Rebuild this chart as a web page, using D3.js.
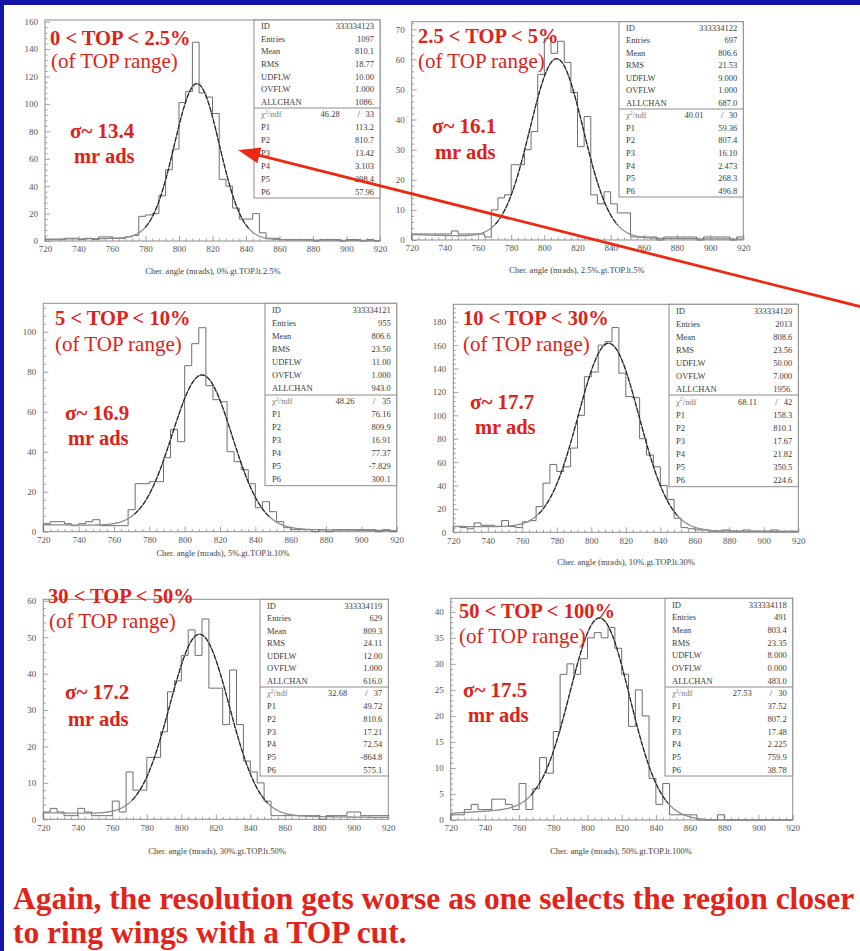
<!DOCTYPE html>
<html>
<head>
<meta charset="utf-8">
<script src="https://cdn.jsdelivr.net/npm/d3@7"></script>
<style>
  html, body { margin: 0; padding: 0; background: #1414a8; }
  svg { display: block; }
</style>
</head>
<body>
<svg id="slide" width="860" height="951"></svg>
<script>
// ---- binning shared by all six histograms (Cherenkov angle, mrad) ----
const binLow = 720, binHigh = 920, binWidth = 4;
const xTickValues = [720, 740, 760, 780, 800, 820, 840, 860, 880, 900, 920];

// ---- bin contents, one array per TOP slice (50 bins of 4 mrad) ----
const countsTop0to2p5 = [1,1,1,2,2,1,2,1,3,3,2,2,3,4, 18,19,20,33,52,67,101,109,145,108,105,93,45,40,24,16,16,20,6,2, 2,1,1,1,1,1,0,1,1,1,0,1,1,0,1,0];
const countsTop2p5to5 = [2,2,2,2,2,2,3,2,2,2,2,1, 10,14,15,25,25,30,36,55,67,62,66,59,49,31,41,15,12,16,12,9,9, 1,1,1,1,0,1,1,1,1,1,0,1,1,1,1,0,1];
const countsTop5to10 = [4,5,5,4,3,4,5,6,3,3,3,3, 11,24,24,25,25,37,51,45,83,94,102,73,66,65,40,35,31,24,12,15,10,5, 2,1,1,1,0,1,0,1,1,1,1,1,1,0,1,0];
const countsTop10to30 = [5,4,3,8,6,6,5,10,5,4,9,10, 22,42,58,52,56,72,100,133,137,160,163,175,136,116,115,80,66,56,40,28,12,4, 3,2,2,1,1,2,1,1,2,1,1,1,2,1,1,1];
const countsTop30to50 = [2,3,2,1,1,3,2,1,1,1,5,2, 13,8,8,17,17,24,35,38,45,52,45,55,36,36,26,41,26,16,13,10,5,1, 1,1,1,1,1,1,0,1,1,1,2,2,1,1,1,1];
const countsTop50to100 = [1,1,2,3,2,2,4,4,3,2,7,2,6,12,9,17,28,30,28,31,35,36,35,37,33,28,18,25,20,8,3,7,1,1,1,1,0,0,0,1, 0,0,0,0,0,0,0,0,0,0];

// ---- y tick labels per histogram ----
const yTicksTop0to2p5 = [0,20,40,60,80,100,120,140,160];
const yTicksTop2p5to5 = [0,10,20,30,40,50,60,70];
const yTicksTop5to10 = [0,20,40,60,80,100];
const yTicksTop10to30 = [0,20,40,60,80,100,120,140,160,180];
const yTicksTop30to50 = [0,10,20,30,40,50,60];
const yTicksTop50to100 = [0,5,10,15,20,25,30,35,40];

// ---- slice captions ----
const sliceTitles = ["0 < TOP < 2.5%", "2.5 < TOP < 5%", "5 < TOP < 10%", "10 < TOP < 30%", "30 < TOP < 50%", "50 < TOP < 100%"];
const sigmaLabels = ["σ~ 13.4", "σ~ 16.1", "σ~ 16.9", "σ~ 17.7", "σ~ 17.2", "σ~ 17.5"];
const cutNames = ["0%.gt.TOP.lt.2.5%", "2.5%.gt.TOP.lt.5%", "5%.gt.TOP.lt.10%", "10%.gt.TOP.lt.30%", "30%.gt.TOP.lt.50%", "50%.gt.TOP.lt.100%"];

// ---- statistics boxes ----
const statId = ["333334123", "333334122", "333334121", "333334120", "333334119", "333334118"];
const statEntries = ["1097", "697", "955", "2013", "629", "491"];
const statMean = ["810.1", "806.6", "806.6", "808.6", "809.3", "803.4"];
const statRms = ["18.77", "21.53", "23.50", "23.56", "24.11", "23.35"];
const statUdflw = ["10.00", "9.000", "11.00", "50.00", "12.00", "8.000"];
const statOvflw = ["1.000", "1.000", "1.000", "7.000", "1.000", "0.000"];
const statAllchan = ["1086.", "687.0", "943.0", "1956.", "616.0", "483.0"];
const fitChi2 = ["46.28", "40.01", "48.26", "68.11", "32.68", "27.53"];
const fitNdf = ["33", "30", "35", "42", "37", "30"];
const fitP1 = ["113.2", "59.36", "76.16", "158.3", "49.72", "37.52"];
const fitP2 = ["810.7", "807.4", "809.9", "810.1", "810.6", "807.2"];
const fitP3 = ["13.42", "16.10", "16.91", "17.67", "17.21", "17.48"];
const fitP4 = ["3.103", "2.473", "77.37", "21.82", "72.54", "2.225"];
const fitP5 = ["298.4", "268.3", "-7.829", "350.5", "-864.8", "759.9"];
const fitP6 = ["57.96", "496.8", "300.1", "224.6", "575.1", "38.78"];

// background level under each fitted peak at 720, 770, 820, 870, 920 mrad
const bgAnchors = [720, 770, 820, 870, 920];
const bgTop0to2p5 = [1.3, 2.0, 1.5, 0.8, 0.3];
const bgTop2p5to5 = [1.8, 1.0, 0.8, 0.5, 0.3];
const bgTop5to10 = [3.5, 3.0, 2.0, 1.0, 0.5];
const bgTop10to30 = [5.0, 4.5, 3.0, 1.0, 0.5];
const bgTop30to50 = [1.8, 1.5, 1.0, 0.8, 0.5];
const bgTop50to100 = [1.3, 2.2, 1.0, 0.0, 0.0];

const histCounts = [countsTop0to2p5, countsTop2p5to5, countsTop5to10, countsTop10to30, countsTop30to50, countsTop50to100];
const histYTicks = [yTicksTop0to2p5, yTicksTop2p5to5, yTicksTop5to10, yTicksTop10to30, yTicksTop30to50, yTicksTop50to100];
const histBg = [bgTop0to2p5, bgTop2p5to5, bgTop5to10, bgTop10to30, bgTop30to50, bgTop50to100];

// ---- page geometry of each histogram pad ----
const pads = [
  {x0: 45,    x1: 380,   y0: 20,    y1: 241,   yTop: 161.2, box: {x0: 254, x1: 380,   y0: 20,    y1: 198,   div: 108},
   title: [50, 45],  sub: [51, 68],  sig: [70, 138], mr: [74, 163], xt: [213, 274]},
  {x0: 411.7, x1: 743.3, y0: 21.7,  y1: 240,   yTop: 72.5,  box: {x0: 619, x1: 743.3, y0: 21.7,  y1: 197,   div: 109},
   title: [418, 43], sub: [418, 68], sig: [432, 133], mr: [435, 159], xt: [577, 273]},
  {x0: 43.3,  x1: 396.7, y0: 303.3, y1: 531.7, yTop: 114.2, box: {x0: 265, x1: 396.7, y0: 303.3, y1: 485.7, div: 395},
   title: [55, 325], sub: [55, 351], sig: [65, 420], mr: [68, 445], xt: [223, 556]},
  {x0: 453.3, x1: 798.3, y0: 304.3, y1: 532.3, yTop: 194.9, box: {x0: 669, x1: 798.3, y0: 304.3, y1: 486.7, div: 395},
   title: [463, 325], sub: [463, 351], sig: [470, 409], mr: [475, 434], xt: [626, 565]},
  {x0: 43.3,  x1: 388.3, y0: 599.3, y1: 819.3, yTop: 60.4,  box: {x0: 260, x1: 388.3, y0: 599.3, y1: 776,   div: 687},
   title: [48, 603], sub: [49, 628], sig: [65, 699], mr: [68, 726], xt: [217, 854]},
  {x0: 450.7, x1: 792.7, y0: 598.3, y1: 820,   yTop: 42.6,  box: {x0: 665, x1: 792.7, y0: 598.3, y1: 776,   div: 687},
   title: [459, 618], sub: [459, 643], sig: [463, 697], mr: [468, 722], xt: [621, 854]}
];

const SERIF = "'Liberation Serif', 'Times New Roman', serif";
const RED = "#df2119";
const FRAME = "#8c8c8c";

const svg = d3.select("#slide");
svg.append("rect").attr("width", 860).attr("height", 951).attr("fill", "#1414a8");
svg.append("rect").attr("x", 4).attr("y", 5).attr("width", 856).attr("height", 946).attr("fill", "#ffffff");

const binEdges = d3.range(binLow, binHigh, binWidth);

pads.forEach((L, i) => {
  const counts = histCounts[i];
  const yTicks = histYTicks[i];
  const x = d3.scaleLinear().domain([binLow, binHigh]).range([L.x0, L.x1]);
  const y = d3.scaleLinear().domain([0, L.yTop]).range([L.y1, L.y0]);
  const g = svg.append("g");

  // axes with ticks pointing into the pad
  const yStep = yTicks[1] - yTicks[0];
  const yMinor = d3.range(0, L.yTop, yStep / 5).filter(v => Math.abs(v / yStep - Math.round(v / yStep)) > 1e-6);
  const xMinor = d3.range(binLow, binHigh, 4).filter(v => (v - binLow) % 20 !== 0);

  const styleAxis = sel => {
    sel.select(".domain").remove();
    sel.selectAll(".tick line").attr("stroke", FRAME).attr("stroke-width", 0.8);
    sel.selectAll("text").attr("font-family", SERIF).attr("font-size", 9).attr("fill", "#555");
  };

  g.append("g").attr("transform", `translate(${L.x0},0)`)
    .call(d3.axisLeft(y).tickValues(yTicks).tickSize(-5).tickPadding(7).tickFormat(d3.format("d")))
    .call(styleAxis);
  g.append("g").attr("transform", `translate(${L.x0},0)`)
    .call(d3.axisLeft(y).tickValues(yMinor).tickSize(-2.5).tickFormat(""))
    .call(styleAxis);
  g.append("g").attr("transform", `translate(0,${L.y1})`)
    .call(d3.axisBottom(x).tickValues(xTickValues).tickSize(-5).tickPadding(5).tickFormat(d3.format("d")))
    .call(styleAxis);
  g.append("g").attr("transform", `translate(0,${L.y1})`)
    .call(d3.axisBottom(x).tickValues(xMinor).tickSize(-2.5).tickFormat(""))
    .call(styleAxis);

  // pad frame
  g.append("rect").attr("x", L.x0).attr("y", L.y0)
    .attr("width", L.x1 - L.x0).attr("height", L.y1 - L.y0)
    .attr("fill", "none").attr("stroke", FRAME).attr("stroke-width", 1);

  // histogram outline
  const pts = binEdges.map((e, k) => [e, counts[k]]);
  pts.push([binHigh, counts[counts.length - 1]]);
  pts.unshift([binLow, 0]);
  const step = d3.line().x(d => x(d[0])).y(d => y(d[1])).curve(d3.curveStepAfter);
  g.append("path").attr("d", step(pts)).attr("fill", "none")
    .attr("stroke", "#6e6e6e").attr("stroke-width", 1);

  // fitted gaussian on top of the background level
  const amp = +fitP1[i], mu = +fitP2[i], sig = +fitP3[i];
  const bg = d3.scaleLinear().domain(bgAnchors).range(histBg[i]);
  const fitAt = v => Math.max(0, amp * Math.exp(-((v - mu) ** 2) / (2 * sig * sig)) + bg(v));
  const samples = d3.range(binLow, binHigh + 0.01, 0.5).map(v => [v, fitAt(v)]);
  const fitLine = d3.line().x(d => x(d[0])).y(d => y(d[1])).curve(d3.curveLinear);
  g.append("path").attr("d", fitLine(samples)).attr("fill", "none")
    .attr("stroke", "#8a8a8a").attr("stroke-width", 1.3);
  const core = samples.filter(d => Math.abs(d[0] - mu) < 2.3 * sig);
  g.append("path").attr("d", fitLine(core)).attr("fill", "none")
    .attr("stroke", "#1e1e1e").attr("stroke-width", 1.1).attr("stroke-dasharray", "5,1.5");

  // statistics box
  const B = L.box;
  g.append("rect").attr("x", B.x0).attr("y", B.y0).attr("width", B.x1 - B.x0).attr("height", B.y1 - B.y0)
    .attr("fill", "#fff").attr("stroke", FRAME).attr("stroke-width", 1);
  g.append("line").attr("x1", B.x0).attr("x2", B.x1).attr("y1", B.div).attr("y2", B.div)
    .attr("stroke", FRAME).attr("stroke-width", 1);
  const upper = [["ID", statId[i]], ["Entries", statEntries[i]], ["Mean", statMean[i]], ["RMS", statRms[i]],
                 ["UDFLW", statUdflw[i]], ["OVFLW", statOvflw[i]], ["ALLCHAN", statAllchan[i]]];
  const lower = [["P1", fitP1[i]], ["P2", fitP2[i]], ["P3", fitP3[i]], ["P4", fitP4[i]], ["P5", fitP5[i]], ["P6", fitP6[i]]];
  const rowU = (B.div - B.y0) / 7, rowL = (B.y1 - B.div) / 7;
  const txt = (xx, yy, s, anchor, fill) => g.append("text").attr("x", xx).attr("y", yy)
    .attr("font-family", SERIF).attr("font-size", 8.5).attr("fill", fill || "#3c3c3c")
    .attr("text-anchor", anchor || "start").text(s);
  upper.forEach((r, k) => {
    const yy = B.y0 + rowU * (k + 0.5) + 3;
    txt(B.x0 + 7, yy, r[0]);
    txt(B.x1 - 6, yy, r[1], "end");
  });
  const chiY = B.div + rowL * 0.5 + 3;
  const chi = g.append("text").attr("x", B.x0 + 7).attr("y", chiY)
    .attr("font-family", SERIF).attr("font-size", 8.5).attr("fill", "#7a7a7a");
  chi.append("tspan").text("χ");
  chi.append("tspan").attr("dy", -3.5).attr("font-size", 6).text("2");
  chi.append("tspan").attr("dy", 3.5).text("/ndf");
  const bw = B.x1 - B.x0;
  txt(B.x0 + 0.68 * bw, chiY, fitChi2[i], "end");
  txt(B.x0 + 0.83 * bw, chiY, "/", "middle");
  txt(B.x1 - 6, chiY, fitNdf[i], "end");
  lower.forEach((r, k) => {
    const yy = B.div + rowL * (k + 1.5) + 3;
    txt(B.x0 + 7, yy, r[0]);
    txt(B.x1 - 6, yy, r[1], "end");
  });

  // x-axis title
  g.append("text").attr("x", L.xt[0]).attr("y", L.xt[1]).attr("text-anchor", "middle")
    .attr("font-family", SERIF).attr("font-size", 8.5).attr("fill", "#444")
    .text("Cher. angle (mrads), " + cutNames[i]);

  // slice annotations
  g.append("text").attr("x", L.title[0]).attr("y", L.title[1])
    .attr("font-family", SERIF).attr("font-weight", "bold").attr("font-size", 20.5).attr("fill", RED)
    .text(sliceTitles[i]);
  g.append("text").attr("x", L.sub[0]).attr("y", L.sub[1])
    .attr("font-family", SERIF).attr("font-size", 21).attr("fill", RED)
    .text("(of TOP range)");
  g.append("text").attr("x", L.sig[0]).attr("y", L.sig[1])
    .attr("font-family", SERIF).attr("font-weight", "bold").attr("font-size", 21).attr("fill", RED)
    .text(sigmaLabels[i]);
  g.append("text").attr("x", L.mr[0]).attr("y", L.mr[1])
    .attr("font-family", SERIF).attr("font-weight", "bold").attr("font-size", 20.5).attr("fill", RED)
    .text("mr ads");
});

// arrow pointing at the narrowest peak
(function drawArrow() {
  const tail = [864, 307.5], tip = [238, 150];
  const dx = tip[0] - tail[0], dy = tip[1] - tail[1];
  const len = Math.hypot(dx, dy), ux = dx / len, uy = dy / len;
  const headLen = 22, headHalf = 8;
  const base = [tip[0] - ux * headLen, tip[1] - uy * headLen];
  svg.append("line").attr("x1", tail[0]).attr("y1", tail[1]).attr("x2", base[0] + ux * 2).attr("y2", base[1] + uy * 2)
    .attr("stroke", "#ec2a12").attr("stroke-width", 2.8);
  svg.append("path")
    .attr("d", `M${tip[0]},${tip[1]} L${base[0] - uy * headHalf},${base[1] + ux * headHalf} L${base[0] + uy * headHalf},${base[1] - ux * headHalf} Z`)
    .attr("fill", "#ec2a12");
})();

// conclusion text
const conclusionLines = ["Again, the resolution gets worse as one selects the region closer", "to ring wings with a TOP cut."];
svg.selectAll("text.concl").data(conclusionLines).enter().append("text")
  .attr("class", "concl")
  .attr("x", 13).attr("y", (d, k) => 909 + k * 34)
  .attr("font-family", SERIF).attr("font-weight", "bold").attr("font-size", 31.5).attr("fill", "#e3221a")
  .text(d => d);
</script>
</body>
</html>
